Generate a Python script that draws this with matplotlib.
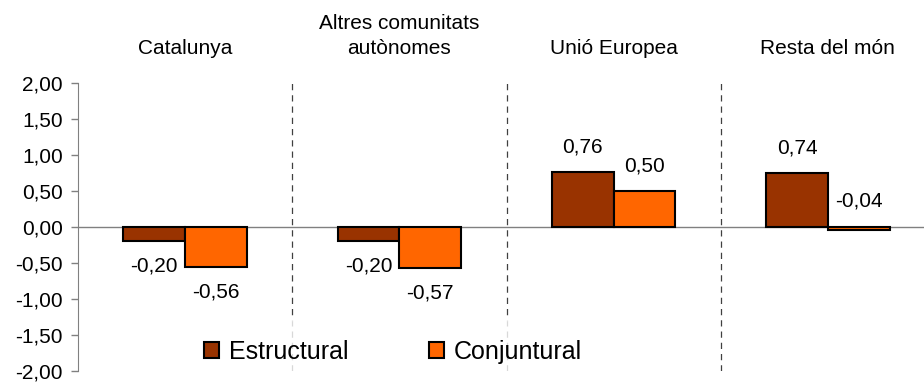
import matplotlib
matplotlib.use("Agg")
import matplotlib.pyplot as plt
import matplotlib.transforms as mtransforms
import numpy as np

plt.rcParams['font.family'] = ['Liberation Sans', 'DejaVu Sans']

# Data
categories = ["Catalunya", "Altres comunitats\nautònomes", "Unió Europea", "Resta del món"]
estructural = [-0.20, -0.20, 0.76, 0.74]
conjuntural = [-0.56, -0.57, 0.50, -0.04]
series_names = ["Estructural", "Conjuntural"]
ytick_values = [-2.0, -1.5, -1.0, -0.5, 0.0, 0.5, 1.0, 1.5, 2.0]
ytick_labels = ["-2,00", "-1,50", "-1,00", "-0,50", "0,00", "0,50", "1,00", "1,50", "2,00"]

col_est = "#993300"
col_con = "#FF6600"

fig = plt.figure(figsize=(9.24, 3.83), dpi=100)
ax = fig.add_axes([78 / 924, 1 - 370.7 / 383, 857 / 924, 288 / 383])

x = np.arange(len(categories))
w = 0.288

b1 = ax.bar(x - w / 2, estructural, w, color=col_est, edgecolor="black", linewidth=1.5,
            label=series_names[0], zorder=3)
b2 = ax.bar(x + w / 2, conjuntural, w, color=col_con, edgecolor="black", linewidth=1.5,
            label=series_names[1], zorder=3)

# value labels past the end of each bar (tiny bars get theirs above the axis)
def fmt(v):
    return f"{v:.2f}".replace(".", ",")

for xs, vals in ((x - w / 2, estructural), (x + w / 2, conjuntural)):
    for xi, v in zip(xs, vals):
        if v >= 0:
            y0, off = v, 25
        elif v > -0.1:
            y0, off = 0, 26
        else:
            y0, off = v, -25
        ax.annotate(fmt(v), (xi, y0), xytext=(0, off), textcoords="offset pixels",
                    ha="center", va="center", fontsize=15, color="black")

ax.axhline(0, color="#808080", lw=1, zorder=2)
ax.vlines([0.5, 1.5, 2.5], -2, 2, colors="#404040", linestyles=(0, (5, 4)), lw=0.9, zorder=1)

ax.set_xlim(-0.5, 3.5)
ax.set_ylim(-2, 2)
ax.set_yticks(ytick_values)
ax.set_yticklabels(ytick_labels)
ax.set_xticks([])
ax.tick_params(axis="y", direction="out", length=5, width=1, color="#808080",
               labelsize=15, pad=6)
for s in ("top", "right", "bottom"):
    ax.spines[s].set_visible(False)
ax.spines["left"].set_color("#808080")

# group titles above the plot
trans = mtransforms.blended_transform_factory(ax.transData, fig.transFigure)
for xi, name in zip(x, categories):
    ax.text(xi, 1 - 58 / 383, name, transform=trans, ha="center", va="bottom",
            fontsize=15, linespacing=1.4)

leg = fig.legend(handles=[b1, b2], loc="center", bbox_to_anchor=(0.4253, 1 - 352 / 383),
                 ncol=2, frameon=True, fontsize=18, handlelength=0.6, handleheight=0.6,
                 handletextpad=0.4, columnspacing=3.2, borderpad=0.8)
leg.get_frame().set_facecolor("white")
leg.get_frame().set_edgecolor("white")
leg.get_frame().set_boxstyle("square", pad=0)
leg.set_zorder(10)

fig.savefig("out.png", dpi=100)
